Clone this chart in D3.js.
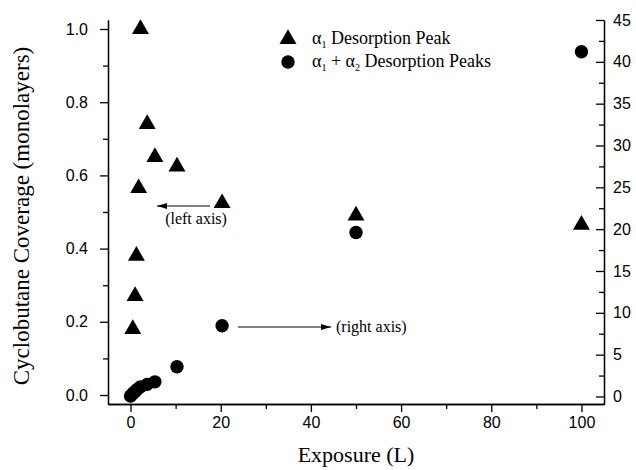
<!DOCTYPE html>
<html>
<head>
<meta charset="utf-8">
<script src="https://cdn.jsdelivr.net/npm/d3@7"></script>
<style>
  body { margin: 0; background: #fff; }
  .axis text { font-family: 'Liberation Sans', Arial, sans-serif; font-size: 16px; fill: #000; }
  .axis path, .axis line { stroke: #000; stroke-width: 1.3; }
  .title { font-family: 'Liberation Serif', 'Times New Roman', 'DejaVu Serif', serif; fill: #000; }
</style>
</head>
<body>
<div id="chart"></div>
<script>
// alpha1 desorption peak (left axis, monolayers)
let exposureTri = [0.5, 1.0, 1.3, 1.8, 2.2, 3.7, 5.4, 10.3, 20.3, 50, 100]
let alpha1 = [0.18, 0.27, 0.38, 0.565, 1.0, 0.74, 0.65, 0.624, 0.524, 0.49, 0.465]

// alpha1 + alpha2 desorption peaks (right axis)
let exposureCirc = [0, 0.5, 1.0, 1.5, 2.2, 3.7, 5.4, 10.3, 20.3, 50, 100]
let alpha12 = [0.05, 0.35, 0.6, 0.85, 1.15, 1.45, 1.75, 3.55, 8.45, 19.6, 41.2]

let xTicks = [0, 20, 40, 60, 80, 100]
let xMinor = [10, 30, 50, 70, 90]
let leftTicks = [0, 0.2, 0.4, 0.6, 0.8, 1.0]
let leftMinor = [0.1, 0.3, 0.5, 0.7, 0.9]
let rightTicks = [0, 5, 10, 15, 20, 25, 30, 35, 40, 45]
let rightMinor = [2.5, 7.5, 12.5, 17.5, 22.5, 27.5, 32.5, 37.5, 42.5]

let width = 636
let height = 470
let plot = { left: 108, right: 604, top: 20, bottom: 404 }

let svg = d3
  .select('#chart')
  .append('svg')
  .attr('width', width)
  .attr('height', height)

let xScale = d3.scaleLinear().domain([-5, 105]).range([plot.left, plot.right])
let yLeft = d3.scaleLinear().domain([-0.0246, 1.0246]).range([plot.bottom, plot.top])
let yRight = d3.scaleLinear().domain([-0.9, 45]).range([plot.bottom, plot.top])

// minor ticks first (no labels)
svg.append('g')
  .attr('class', 'axis')
  .attr('transform', 'translate(0,' + plot.bottom + ')')
  .call(d3.axisBottom(xScale).tickValues(xMinor).tickSize(5).tickSizeOuter(0).tickFormat(''))
svg.append('g')
  .attr('class', 'axis')
  .attr('transform', 'translate(' + plot.left + ',0)')
  .call(d3.axisLeft(yLeft).tickValues(leftMinor).tickSize(5).tickSizeOuter(0).tickFormat(''))
svg.append('g')
  .attr('class', 'axis')
  .attr('transform', 'translate(' + plot.right + ',0)')
  .call(d3.axisRight(yRight).tickValues(rightMinor).tickSize(-5).tickSizeOuter(0).tickFormat(''))

// major ticks
svg.append('g')
  .attr('class', 'axis')
  .attr('transform', 'translate(0,' + plot.bottom + ')')
  .call(d3.axisBottom(xScale).tickValues(xTicks).tickSize(8).tickPadding(5).tickSizeOuter(0).tickFormat(d3.format('d')))
svg.append('g')
  .attr('class', 'axis')
  .attr('transform', 'translate(' + plot.left + ',0)')
  .call(d3.axisLeft(yLeft).tickValues(leftTicks).tickSize(8).tickPadding(12).tickSizeOuter(0).tickFormat(d3.format('.1f')))
svg.append('g')
  .attr('class', 'axis')
  .attr('transform', 'translate(' + plot.right + ',0)')
  .call(d3.axisRight(yRight).tickValues(rightTicks).tickSize(-8).tickPadding(9).tickSizeOuter(0).tickFormat(d3.format('d')))

// axis titles
svg.append('text')
  .attr('class', 'title')
  .attr('x', (plot.left + plot.right) / 2)
  .attr('y', 462)
  .attr('text-anchor', 'middle')
  .attr('font-size', 22)
  .text('Exposure (L)')

svg.append('text')
  .attr('class', 'title')
  .attr('transform', 'translate(29,' + ((plot.top + plot.bottom) / 2 + 4) + ') rotate(-90)')
  .attr('text-anchor', 'middle')
  .attr('font-size', 23)
  .text('Cyclobutane Coverage (monolayers)')

let tri = d3.symbol().type(d3.symbolTriangle).size(125)

svg.selectAll('.tri')
  .data(exposureTri)
  .enter()
  .append('path')
  .attr('class', 'tri')
  .attr('d', tri)
  .attr('transform', function(d, i) {
    return 'translate(' + xScale(d) + ',' + yLeft(alpha1[i]) + ')'
  })
  .attr('fill', '#000')

svg.selectAll('.dot')
  .data(exposureCirc)
  .enter()
  .append('circle')
  .attr('class', 'dot')
  .attr('cx', function(d) { return xScale(d) })
  .attr('cy', function(d, i) { return yRight(alpha12[i]) })
  .attr('r', 6.7)
  .attr('fill', '#000')

// legend
let legend = svg.append('g')
legend.append('path').attr('d', tri).attr('transform', 'translate(288,39)')
legend.append('circle').attr('cx', 288).attr('cy', 62).attr('r', 6.7)

let l1 = legend.append('text').attr('class', 'title').attr('x', 312).attr('y', 44).attr('font-size', 18)
l1.append('tspan').text('α')
l1.append('tspan').attr('font-size', 10).attr('dy', 4).text('1')
l1.append('tspan').attr('dy', -4).text(' Desorption Peak')

let l2 = legend.append('text').attr('class', 'title').attr('x', 312).attr('y', 67).attr('font-size', 18)
l2.append('tspan').text('α')
l2.append('tspan').attr('font-size', 10).attr('dy', 4).text('1')
l2.append('tspan').attr('dy', -4).text(' + α')
l2.append('tspan').attr('font-size', 10).attr('dy', 4).text('2')
l2.append('tspan').attr('dy', -4).text(' Desorption Peaks')

// annotation arrows
svg.append('defs').append('marker')
  .attr('id', 'head')
  .attr('viewBox', '0 0 10 6')
  .attr('refX', 10)
  .attr('refY', 3)
  .attr('markerWidth', 10)
  .attr('markerHeight', 6)
  .attr('markerUnits', 'userSpaceOnUse')
  .attr('orient', 'auto')
  .append('path')
  .attr('d', 'M0,0 L10,3 L0,6 Z')
  .attr('fill', '#000')

svg.append('line')
  .attr('x1', 210).attr('y1', 206).attr('x2', 157).attr('y2', 206)
  .attr('stroke', '#000').attr('stroke-width', 1)
  .attr('marker-end', 'url(#head)')
svg.append('text')
  .attr('class', 'title')
  .attr('x', 196).attr('y', 224)
  .attr('text-anchor', 'middle')
  .attr('font-size', 16)
  .text('(left axis)')

svg.append('line')
  .attr('x1', 238).attr('y1', 327).attr('x2', 331).attr('y2', 327)
  .attr('stroke', '#000').attr('stroke-width', 1)
  .attr('marker-end', 'url(#head)')
svg.append('text')
  .attr('class', 'title')
  .attr('x', 336).attr('y', 332)
  .attr('font-size', 16)
  .text('(right axis)')
</script>
</body>
</html>
